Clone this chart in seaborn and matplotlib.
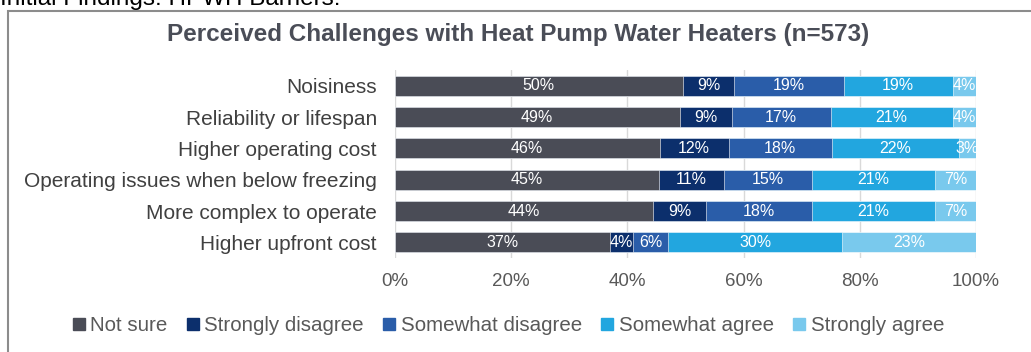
import numpy as np
import pandas as pd
import matplotlib
matplotlib.use("Agg")
import matplotlib.pyplot as plt
from matplotlib.patches import Rectangle
import seaborn as sns

# chart data
categories = ["Noisiness", "Reliability or lifespan", "Higher operating cost",
              "Operating issues when below freezing", "More complex to operate",
              "Higher upfront cost"]
responses = ["Not sure", "Strongly disagree", "Somewhat disagree",
             "Somewhat agree", "Strongly agree"]
not_sure = [50, 49, 46, 45, 44, 37]
strongly_disagree = [9, 9, 12, 11, 9, 4]
somewhat_disagree = [19, 17, 18, 15, 18, 6]
somewhat_agree = [19, 21, 22, 21, 21, 30]
strongly_agree = [4, 4, 3, 7, 7, 23]
xticks = [0, 20, 40, 60, 80, 100]

colors = ["#4a4c56", "#0c2f6c", "#2a5da9", "#22a6df", "#79c9ed"]

sns.set_theme(style="white")
plt.rcParams["font.family"] = ["Liberation Sans", "DejaVu Sans"]

vals = np.array([not_sure, strongly_disagree, somewhat_disagree,
                 somewhat_agree, strongly_agree], dtype=float).T
shares = vals / vals.sum(axis=1, keepdims=True) * 100  # 100% stacked
cum = np.cumsum(shares, axis=1)

fig = plt.figure(figsize=(10.31, 3.52), dpi=100)
ax = fig.add_axes([0.383, 0.267, 0.5636, 0.534])

# draw cumulative bars from the last segment back to the first
for i in range(len(responses) - 1, -1, -1):
    df = pd.DataFrame({"category": categories, "value": cum[:, i]})
    sns.barplot(data=df, x="value", y="category", color=colors[i],
                saturation=1, width=0.64, ax=ax,
                edgecolor="white", linewidth=0.4)

# segment labels
for r in range(len(categories)):
    left = 0
    for i in range(len(responses)):
        w = shares[r, i]
        ax.text(left + w / 2, r, f"{int(vals[r, i])}%", ha="center",
                va="center", color="white", fontsize=11.5)
        left += w

ax.set_xlim(0, 100)
ax.set_ylim(5.5, -0.5)
ax.set_xticks(xticks)
ax.set_xticklabels([f"{t}%" for t in xticks], color="#595959", fontsize=13.5)
ax.tick_params(axis="x", pad=11, length=0)
ax.tick_params(axis="y", length=0, pad=13)
ax.set_yticks(range(len(categories)))
ax.set_yticklabels(categories, color="#404040", fontsize=15)
ax.set_xlabel("")
ax.set_ylabel("")
ax.grid(axis="x", color="#d9d9d9", linewidth=1)
ax.set_axisbelow(True)
for s in ax.spines.values():
    s.set_visible(False)

leg = fig.legend([plt.Line2D([], [], marker="s", linestyle="", markersize=8,
                             color=colors[i]) for i in range(5)],
                 responses, loc="center", bbox_to_anchor=(0.492, 0.075),
                 ncol=5, frameon=False, fontsize=14.8, handletextpad=0.15,
                 columnspacing=0.85, handlelength=0.8)
for t in leg.get_texts():
    t.set_color("#595959")

fig.text(0.503, 1 - 34 / 352, "Perceived Challenges with Heat Pump Water Heaters (n=573)",
         ha="center", va="center", fontsize=17.5, fontweight="bold", color="#4a4d57")

# slide heading cut off at the top and the frame around the chart
fig.text(0.0, 1 - 5 / 352, "Initial Findings: HPWH Barriers:", ha="left",
         va="baseline", fontsize=17.5, color="black")
fig.patches.append(Rectangle((8 / 1031, -0.1), 1.1, 1 - 11 / 352 + 0.1,
                             transform=fig.transFigure, fill=False,
                             edgecolor="#8c8c8c", linewidth=1.5))

fig.savefig("out.png", dpi=100)
